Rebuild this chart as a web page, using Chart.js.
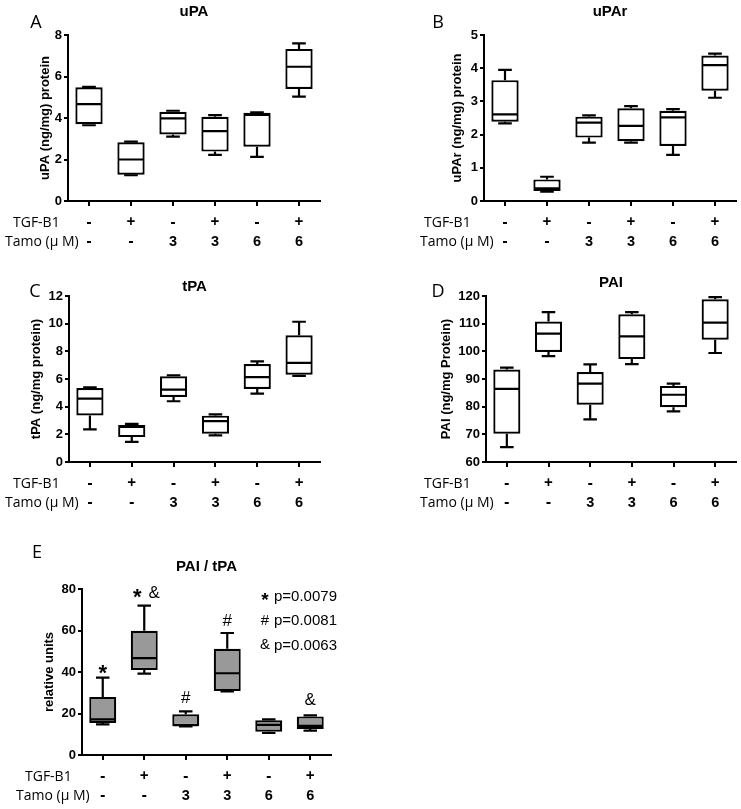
<!DOCTYPE html>
<html>
<head>
<meta charset="utf-8">
<script src="https://cdn.jsdelivr.net/npm/chart.js"></script>
<style>
  body { margin: 0; background: #fff; }
  #fig { position: relative; width: 741px; height: 809px; background: #fff; }
  canvas { position: absolute; }
</style>
</head>
<body>
<div id="fig">
  <canvas id="chartA" width="335" height="255" style="left:0;top:0"></canvas>
  <canvas id="chartB" width="371" height="255" style="left:370px;top:0"></canvas>
  <canvas id="chartC" width="335" height="256" style="left:0;top:260px"></canvas>
  <canvas id="chartD" width="371" height="256" style="left:370px;top:260px"></canvas>
  <canvas id="chartE" width="370" height="279" style="left:0;top:530px"></canvas>
</div>
<script>
// row labels under every panel
const rowNames = ["TGF-B1", "Tamo (\u03bc M)"];
const tgfLabels = ["-", "+", "-", "+", "-", "+"];
const tamoLabels = ["-", "-", "3", "3", "6", "6"];

// each box: [min, q1, median, q3, max]
const uPABoxes = [
  [3.65, 3.7, 4.67, 5.48, 5.5],
  [1.24, 1.27, 2.0, 2.83, 2.86],
  [3.1, 3.21, 3.98, 4.3, 4.35],
  [2.22, 2.38, 3.37, 4.06, 4.14],
  [2.13, 2.62, 4.15, 4.25, 4.27],
  [5.03, 5.4, 6.47, 7.33, 7.6],
];
const uPArBoxes = [
  [2.34, 2.39, 2.61, 3.64, 3.95],
  [0.28, 0.3, 0.38, 0.65, 0.73],
  [1.76, 1.91, 2.36, 2.54, 2.58],
  [1.76, 1.8, 2.26, 2.79, 2.86],
  [1.39, 1.66, 2.52, 2.72, 2.77],
  [3.11, 3.32, 4.09, 4.38, 4.44],
];
const tPABoxes = [
  [2.36, 3.37, 4.58, 5.35, 5.4],
  [1.45, 1.8, 2.53, 2.67, 2.75],
  [4.39, 4.7, 5.23, 6.2, 6.27],
  [1.93, 2.05, 2.96, 3.35, 3.45],
  [4.94, 5.28, 6.14, 7.08, 7.28],
  [6.22, 6.31, 7.16, 9.16, 10.14],
];
const PAIBoxes = [
  [65.4, 70.2, 86.4, 93.4, 94.1],
  [98.3, 99.8, 106.4, 110.8, 114.2],
  [75.4, 80.7, 88.3, 92.5, 95.3],
  [95.4, 97.2, 105.4, 113.4, 114.2],
  [78.3, 79.8, 84.3, 87.5, 88.3],
  [99.4, 104.2, 110.4, 118.8, 119.6],
];
const ratioBoxes = [
  [14.8, 15.4, 17.2, 28, 37.3],
  [39.2, 41, 46.7, 59.9, 72],
  [13.8, 14.0, 14.4, 19.6, 21.0],
  [30.7, 30.8, 39.4, 51.2, 58.8],
  [10.6, 11.2, 14.5, 16.7, 17.2],
  [11.7, 12.5, 14.0, 18.6, 19.1],
];
// significance marks above the PAI / tPA boxes
const ratioMarks = ["*", "*&", "#", "#", "", "&"];
const ratioMarkY = [42.4, 78.6, 28, 65, 0, 27];
const pValues = [["*", "p=0.0079"], ["#", "p=0.0081"], ["&", "p=0.0063"]];

const ARIAL = "'Liberation Sans', Arial, sans-serif";
const SANS = "'Open Sans', sans-serif";

function drawMark(ctx, ch, x, y, starSize, size) {
  if (ch === "*") {
    ctx.font = `bold ${starSize}px ${ARIAL}`;
    ctx.fillText(ch, x, y + starSize * 0.57);
  } else {
    ctx.font = `${size}px ${ARIAL}`;
    ctx.fillText(ch, x, y + size * 0.36);
  }
}

function makePanel(id, p) {
  const boxPlugin = {
    id: "boxes" + id,
    afterDatasetsDraw(chart) {
      const { ctx, scales: { x, y } } = chart;
      const meta = chart.getDatasetMeta(0);
      ctx.save();
      ctx.strokeStyle = "#000";
      ctx.lineWidth = 2.2;
      p.boxes.forEach(([min, q1, med, q3, max], i) => {
        const cx = x.getPixelForValue(i);
        const half = meta.data[i].width / 2;
        const cap = half * 0.5;
        const yMin = y.getPixelForValue(min);
        const yMax = y.getPixelForValue(max);
        ctx.beginPath();
        ctx.moveTo(cx, y.getPixelForValue(q3));
        ctx.lineTo(cx, yMax);
        ctx.moveTo(cx - cap, yMax);
        ctx.lineTo(cx + cap, yMax);
        ctx.moveTo(cx, y.getPixelForValue(q1));
        ctx.lineTo(cx, yMin);
        ctx.moveTo(cx - cap, yMin);
        ctx.lineTo(cx + cap, yMin);
        ctx.moveTo(cx - half + 1, y.getPixelForValue(med));
        ctx.lineTo(cx + half - 1, y.getPixelForValue(med));
        ctx.stroke();
      });
      ctx.restore();
    },
  };

  const textPlugin = {
    id: "text" + id,
    afterDraw(chart) {
      const { ctx, chartArea, scales } = chart;
      ctx.save();
      ctx.fillStyle = "#000";
      ctx.textBaseline = "middle";
      ctx.textAlign = "center";
      ctx.font = `18px ${SANS}`;
      ctx.fillText(p.letter, p.letterPos[0], p.letterPos[1]);
      ctx.font = `bold 15px ${ARIAL}`;
      ctx.fillText(p.title, (chartArea.left + chartArea.right) / 2, p.titleY);
      ctx.textAlign = "left";
      ctx.font = `14px ${SANS}`;
      ctx.fillText(rowNames[0], p.rowX[0], scales.x.top + 22);
      ctx.fillText(rowNames[1], p.rowX[1], scales.x2.top + 11);
      if (p.extra) p.extra(chart);
      ctx.restore();
    },
  };

  const tickFont = (c) =>
    /\d/.test(c.tick.label)
      ? { family: ARIAL, size: 14.5, weight: "bold", lineHeight: "18px" }
      : { family: SANS, size: 15.5, weight: "bold", lineHeight: "18px" };

  return new Chart(document.getElementById(id), {
    type: "bar",
    data: {
      labels: tgfLabels,
      datasets: [
        {
          data: p.boxes.map((b) => [b[1], b[3]]),
          backgroundColor: p.fill || "#fff",
          borderColor: "#000",
          borderWidth: 2.2,
          borderSkipped: false,
          barPercentage: 0.65,
          categoryPercentage: 1,
        },
      ],
    },
    options: {
      responsive: false,
      animation: false,
      layout: { padding: p.padding },
      plugins: { legend: { display: false }, tooltip: { enabled: false } },
      scales: {
        x: {
          type: "category",
          offset: true,
          afterFit: (s) => { s.height = 30; },
          grid: { offset: false, drawOnChartArea: false, tickLength: 5, color: "#000", lineWidth: 2 },
          border: { color: "#000", width: 2 },
          ticks: { color: "#000", font: tickFont, padding: 8, autoSkip: false, maxRotation: 0 },
        },
        x2: {
          type: "category",
          position: "bottom",
          weight: 1,
          labels: tamoLabels,
          offset: true,
          afterFit: (s) => { s.height = 20; },
          grid: { display: false, drawTicks: false },
          border: { display: false },
          ticks: { color: "#000", font: tickFont, padding: 2, autoSkip: false, maxRotation: 0 },
        },
        y: {
          min: p.yMin,
          max: p.yMax,
          afterFit: (s) => { s.width = p.yWidth; },
          grid: { drawOnChartArea: false, tickLength: 4, color: "#000", lineWidth: 2 },
          border: { color: "#000", width: 2 },
          ticks: {
            stepSize: p.yStep,
            color: "#000",
            padding: 2,
            font: { family: ARIAL, size: 13, weight: "bold" },
          },
          title: {
            display: true,
            text: p.yTitle,
            color: "#000",
            padding: { top: 10, bottom: 0 },
            font: { family: ARIAL, size: 13, weight: "bold" },
          },
        },
      },
    },
    plugins: [boxPlugin, textPlugin],
  });
}

makePanel("chartA", {
  boxes: uPABoxes, title: "uPA", titleY: 12, letter: "A", letterPos: [36, 23],
  yTitle: "uPA (ng/mg) protein", yMin: 0, yMax: 8, yStep: 2, yWidth: 40,
  padding: { top: 35, left: 28, right: 15, bottom: 4 }, rowX: [13, 5],
});
makePanel("chartB", {
  boxes: uPArBoxes, title: "uPAr", titleY: 12, letter: "B", letterPos: [68, 23],
  yTitle: "uPAr (ng/mg) protein", yMin: 0, yMax: 5, yStep: 1, yWidth: 44,
  padding: { top: 35, left: 70, right: 5, bottom: 4 }, rowX: [54, 50],
});
makePanel("chartC", {
  boxes: tPABoxes, title: "tPA", titleY: 27, letter: "C", letterPos: [35, 32],
  yTitle: "tPA (ng/mg protein)", yMin: 0, yMax: 12, yStep: 2, yWidth: 50,
  padding: { top: 36, left: 19, right: 15, bottom: 4 }, rowX: [13, 5],
});
makePanel("chartD", {
  boxes: PAIBoxes, title: "PAI", titleY: 23, letter: "D", letterPos: [68, 32],
  yTitle: "PAI (ng/mg Protein)", yMin: 60, yMax: 120, yStep: 10, yWidth: 57,
  padding: { top: 36, left: 59, right: 5, bottom: 4 }, rowX: [54, 50],
});
makePanel("chartE", {
  boxes: ratioBoxes, fill: "#999999", title: "PAI / tPA", titleY: 37, letter: "E", letterPos: [37, 23],
  yTitle: "relative units", yMin: 0, yMax: 80, yStep: 20, yWidth: 50,
  padding: { top: 59, left: 32, right: 39, bottom: 4 }, rowX: [25, 16],
  extra(chart) {
    const { ctx, scales: { x, y } } = chart;
    ctx.textAlign = "center";
    ctx.textBaseline = "alphabetic";
    ratioMarks.forEach((m, i) => {
      if (!m) return;
      const cx = x.getPixelForValue(i);
      const cy = y.getPixelForValue(ratioMarkY[i]);
      if (m.length === 2) {
        drawMark(ctx, m[0], cx - 7, cy, 22, 17);
        drawMark(ctx, m[1], cx + 10, cy, 22, 17);
      } else {
        drawMark(ctx, m, cx, cy, 22, 17);
      }
    });
    pValues.forEach(([sym, txt], i) => {
      const ly = 65 + i * 24.5;
      ctx.textAlign = "center";
      drawMark(ctx, sym, 265, ly, 19, 15);
      ctx.textAlign = "left";
      ctx.font = `15px ${ARIAL}`;
      ctx.fillText(txt, 274, ly + 5.5);
    });
  },
});
</script>
</body>
</html>
